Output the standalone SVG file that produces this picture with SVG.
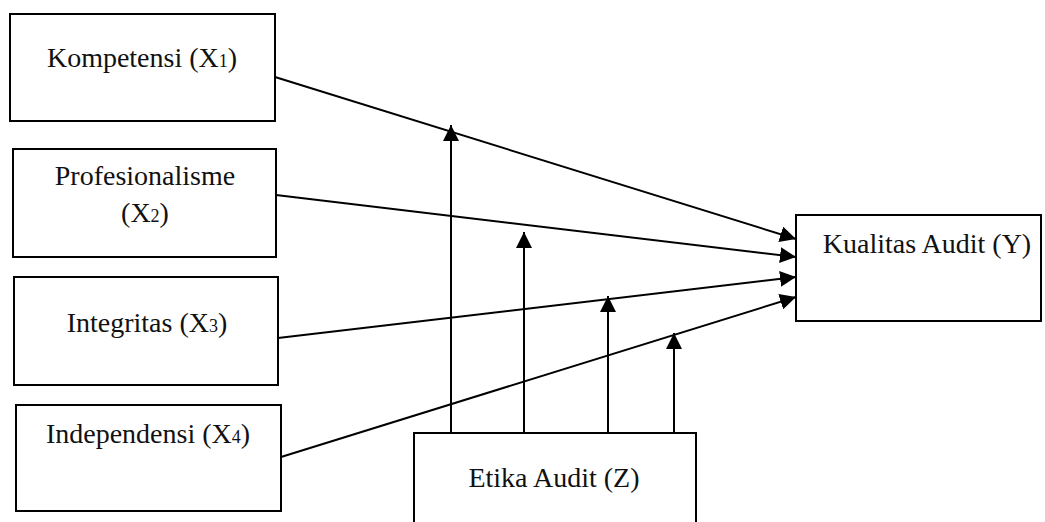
<svg xmlns="http://www.w3.org/2000/svg" width="1045" height="522" viewBox="0 0 1045 522">
<style>
.box{fill:#fff;stroke:#000;stroke-width:2}
.t{font-family:"Liberation Serif","Times New Roman",serif;font-size:28px;fill:#111;text-anchor:middle}
.s{font-size:18px}
.c{stroke:#000;stroke-width:2;fill:none;marker-end:url(#ah)}
</style>
<defs>
<marker id="ah" markerUnits="userSpaceOnUse" viewBox="0 0 16 16" refX="16" refY="8" markerWidth="16" markerHeight="16" orient="auto">
<path d="M0,0 L16,8 L0,16 Z" fill="#000"/>
</marker>
</defs>
<rect width="1045" height="522" fill="#fff"/>
<g id="connectors">
<line class="c" x1="275" y1="77" x2="796" y2="239"/>
<line class="c" x1="276" y1="195" x2="796" y2="257"/>
<line class="c" x1="278" y1="338" x2="796" y2="277"/>
<line class="c" x1="281" y1="457" x2="796" y2="297"/>
<line class="c" x1="451" y1="433" x2="451" y2="125"/>
<line class="c" x1="524" y1="433" x2="524" y2="232"/>
<line class="c" x1="608" y1="433" x2="608" y2="296"/>
<line class="c" x1="674" y1="436" x2="674" y2="333"/>
</g>
<g id="n-x1">
<rect class="box" x="10" y="14" width="265" height="107"/>
<text class="t" x="142" y="67">Kompetensi (X<tspan class="s">1</tspan>)</text>
</g>
<g id="n-x2">
<rect class="box" x="13" y="149" width="263" height="108"/>
<text class="t" x="145" y="185">Profesionalisme</text>
<text class="t" x="145" y="222">(X<tspan class="s">2</tspan>)</text>
</g>
<g id="n-x3">
<rect class="box" x="14" y="277" width="264" height="108"/>
<text class="t" x="147" y="332">Integritas (X<tspan class="s">3</tspan>)</text>
</g>
<g id="n-x4">
<rect class="box" x="16" y="405" width="265" height="106"/>
<text class="t" x="148" y="443">Independensi (X<tspan class="s">4</tspan>)</text>
</g>
<g id="n-z">
<rect class="box" x="414" y="433" width="282" height="100"/>
<text class="t" x="554" y="487">Etika Audit (Z)</text>
</g>
<g id="n-y">
<rect class="box" x="796" y="215" width="245" height="106"/>
<text class="t" x="927" y="253">Kualitas Audit (Y)</text>
</g>
</svg>
